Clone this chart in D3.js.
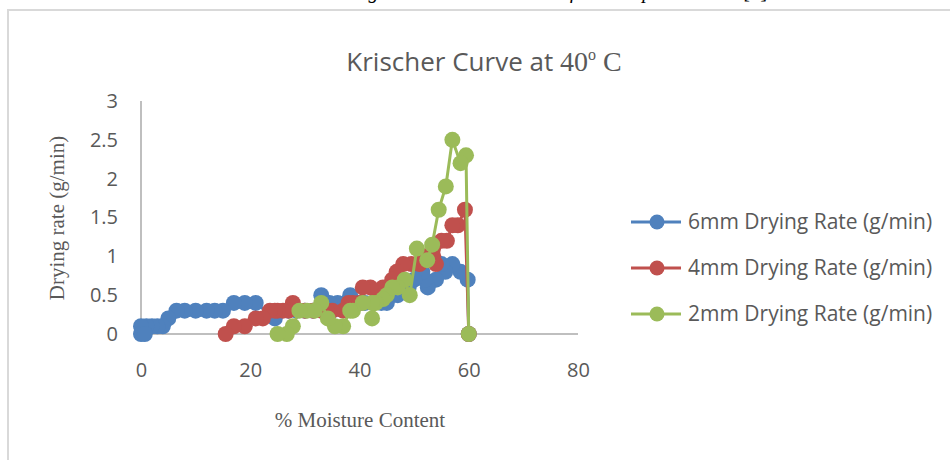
<!DOCTYPE html>
<html>
<head>
<meta charset="utf-8">
<script src="https://cdn.jsdelivr.net/npm/d3@7"></script>
<style>
  body { margin: 0; background: #fff; }
  svg { display: block; }
</style>
</head>
<body>
<div id="chart"></div>
<script>
// moisture content (%) and drying rate (g/min) for each sample thickness
const mc6 = [60, 59.8, 58.5, 57, 55.7, 55, 54, 52.5, 52, 51.5, 50, 49, 48, 47, 46, 45, 44, 42.5, 41, 40, 38.3, 37.5, 36, 35, 34.5, 33, 31.5, 30, 28.5, 27, 24.5, 21, 19, 17, 15, 13.5, 12, 10, 8, 6.5, 5, 4, 3, 2, 1, 0, 0, 0.7];
const rate6 = [0, 0.7, 0.8, 0.9, 0.8, 0.9, 0.7, 0.6, 0.7, 0.8, 0.7, 0.6, 0.6, 0.5, 0.5, 0.4, 0.4, 0.4, 0.4, 0.4, 0.5, 0.4, 0.4, 0.3, 0.4, 0.5, 0.3, 0.3, 0.3, 0.3, 0.2, 0.4, 0.4, 0.4, 0.3, 0.3, 0.3, 0.3, 0.3, 0.3, 0.2, 0.1, 0.1, 0.1, 0.1, 0.1, 0, 0];

const mc4 = [60, 59.3, 58, 57, 56, 55, 54, 53.5, 52, 51, 49.5, 48, 46.8, 46, 45, 44.3, 43.5, 42, 40.6, 40, 38.8, 38, 37, 35, 34, 33, 31.5, 30, 27.8, 27, 26, 25, 24.5, 23.6, 22.3, 21, 19, 17, 15.5];
const rate4 = [0, 1.6, 1.4, 1.4, 1.2, 1.2, 0.9, 1.0, 1.0, 0.9, 0.9, 0.9, 0.8, 0.7, 0.6, 0.6, 0.5, 0.6, 0.6, 0.4, 0.4, 0.4, 0.3, 0.3, 0.3, 0.3, 0.3, 0.3, 0.4, 0.3, 0.3, 0.3, 0.3, 0.3, 0.2, 0.2, 0.1, 0.1, 0];

const mc2 = [60, 59.5, 58.5, 57, 55.8, 54.5, 53.3, 52.4, 50.5, 49.2, 48.3, 47, 46, 45, 44.3, 43, 42.3, 42.3, 40.6, 38.8, 38.3, 37, 35.5, 34.2, 33, 31.8, 30.4, 29, 27.8, 26.7, 25];
const rate2 = [0, 2.3, 2.2, 2.5, 1.9, 1.6, 1.15, 0.95, 1.1, 0.5, 0.7, 0.6, 0.6, 0.5, 0.45, 0.4, 0.2, 0.4, 0.4, 0.3, 0.3, 0.1, 0.1, 0.2, 0.4, 0.3, 0.3, 0.3, 0.1, 0, 0];

const seriesNames = ["6mm Drying Rate (g/min)", "4mm Drying Rate (g/min)", "2mm Drying Rate (g/min)"];
const seriesColors = ["#4f81bd", "#c0504d", "#9bbb59"];
const xTicks = [0, 20, 40, 60, 80];
const yTicks = [0, 0.5, 1, 1.5, 2, 2.5, 3];

const series = [
    { name: seriesNames[0], color: seriesColors[0], pts: mc6.map((m, i) => [m, rate6[i]]) },
    { name: seriesNames[1], color: seriesColors[1], pts: mc4.map((m, i) => [m, rate4[i]]) },
    { name: seriesNames[2], color: seriesColors[2], pts: mc2.map((m, i) => [m, rate2[i]]) }
];

const width = 950, height = 460;
const svg = d3.select('#chart').append('svg')
    .attr('width', width)
    .attr('height', height);

// caption of the page above, cut off at the top as in the source
svg.append('text')
    .attr('x', 560).attr('y', -2)
    .attr('text-anchor', 'middle')
    .attr('font-family', 'Liberation Serif, serif')
    .attr('font-style', 'italic')
    .attr('font-size', 20)
    .attr('fill', '#000')
    .text('Figure 8: Krischer Curve of the sample at 40° C [9]');

// chart frame
svg.append('rect')
    .attr('x', 8).attr('y', 10)
    .attr('width', 960).attr('height', 470)
    .attr('fill', '#fff')
    .attr('stroke', '#d9d9d9')
    .attr('stroke-width', 2);

// scales
const x = d3.scaleLinear().domain([0, 80]).range([141, 578]);
const y = d3.scaleLinear().domain([0, 3]).range([334, 101]);

// title
const title = svg.append('text')
    .attr('x', 484).attr('y', 71)
    .attr('text-anchor', 'middle')
    .attr('fill', '#595959')
    .attr('font-family', 'Open Sans, sans-serif')
    .attr('font-size', 26);
title.append('tspan').text('Krischer Curve at ');
title.append('tspan').attr('font-family', 'Liberation Serif, serif').attr('font-size', 28).text('40');
title.append('tspan').attr('font-family', 'Liberation Serif, serif').attr('font-size', 16).attr('dy', -11).text('o');
title.append('tspan').attr('font-family', 'Liberation Serif, serif').attr('font-size', 28).attr('dy', 11).attr('dx', 7).text('C');

// axes
const xAxis = svg.append('g')
    .attr('transform', `translate(0,${y(0)})`)
    .call(d3.axisBottom(x).tickValues(xTicks).tickSize(0).tickPadding(29));
const yAxis = svg.append('g')
    .attr('transform', `translate(${x(0)},0)`)
    .call(d3.axisLeft(y).tickValues(yTicks).tickSize(0).tickPadding(23).tickFormat(d3.format('')));

[xAxis, yAxis].forEach(a => {
    a.select('.domain').attr('stroke', '#bfbfbf').attr('stroke-width', 2);
    a.selectAll('text')
        .attr('fill', '#595959')
        .attr('font-family', 'Open Sans, sans-serif')
        .attr('font-size', 20);
});
xAxis.select('.domain').attr('d', `M${x(0)},0H${x(80)}`);
yAxis.select('.domain').attr('d', `M0,${y(0)}V${y(3)}`);

// axis titles
svg.append('text')
    .attr('x', 360).attr('y', 427)
    .attr('text-anchor', 'middle')
    .attr('fill', '#595959')
    .attr('font-family', 'Liberation Serif, serif')
    .attr('font-size', 21)
    .text('% Moisture Content');
svg.append('text')
    .attr('transform', 'translate(64,218) rotate(-90)')
    .attr('text-anchor', 'middle')
    .attr('fill', '#595959')
    .attr('font-family', 'Liberation Serif, serif')
    .attr('font-size', 21)
    .text('Drying rate (g/min)');

// lines and markers
const line = d3.line().x(d => x(d[0])).y(d => y(d[1]));
series.forEach(s => {
    const g = svg.append('g');
    g.append('path')
        .datum(s.pts)
        .attr('d', line)
        .attr('fill', 'none')
        .attr('stroke', s.color)
        .attr('stroke-width', 3)
        .attr('stroke-linejoin', 'round');
    g.selectAll('circle')
        .data(s.pts)
        .enter().append('circle')
        .attr('cx', d => x(d[0]))
        .attr('cy', d => y(d[1]))
        .attr('r', 8)
        .attr('fill', s.color);
});

// legend
const legend = svg.append('g');
series.forEach((s, i) => {
    const ly = 222 + i * 46;
    legend.append('line')
        .attr('x1', 631).attr('x2', 681)
        .attr('y1', ly).attr('y2', ly)
        .attr('stroke', s.color).attr('stroke-width', 3);
    legend.append('circle')
        .attr('cx', 657).attr('cy', ly).attr('r', 7.5)
        .attr('fill', s.color);
    legend.append('text')
        .attr('x', 688).attr('y', ly + 7)
        .attr('fill', '#595959')
        .attr('font-family', 'Open Sans, sans-serif')
        .attr('font-size', 21)
        .text(s.name);
});
</script>
</body>
</html>
